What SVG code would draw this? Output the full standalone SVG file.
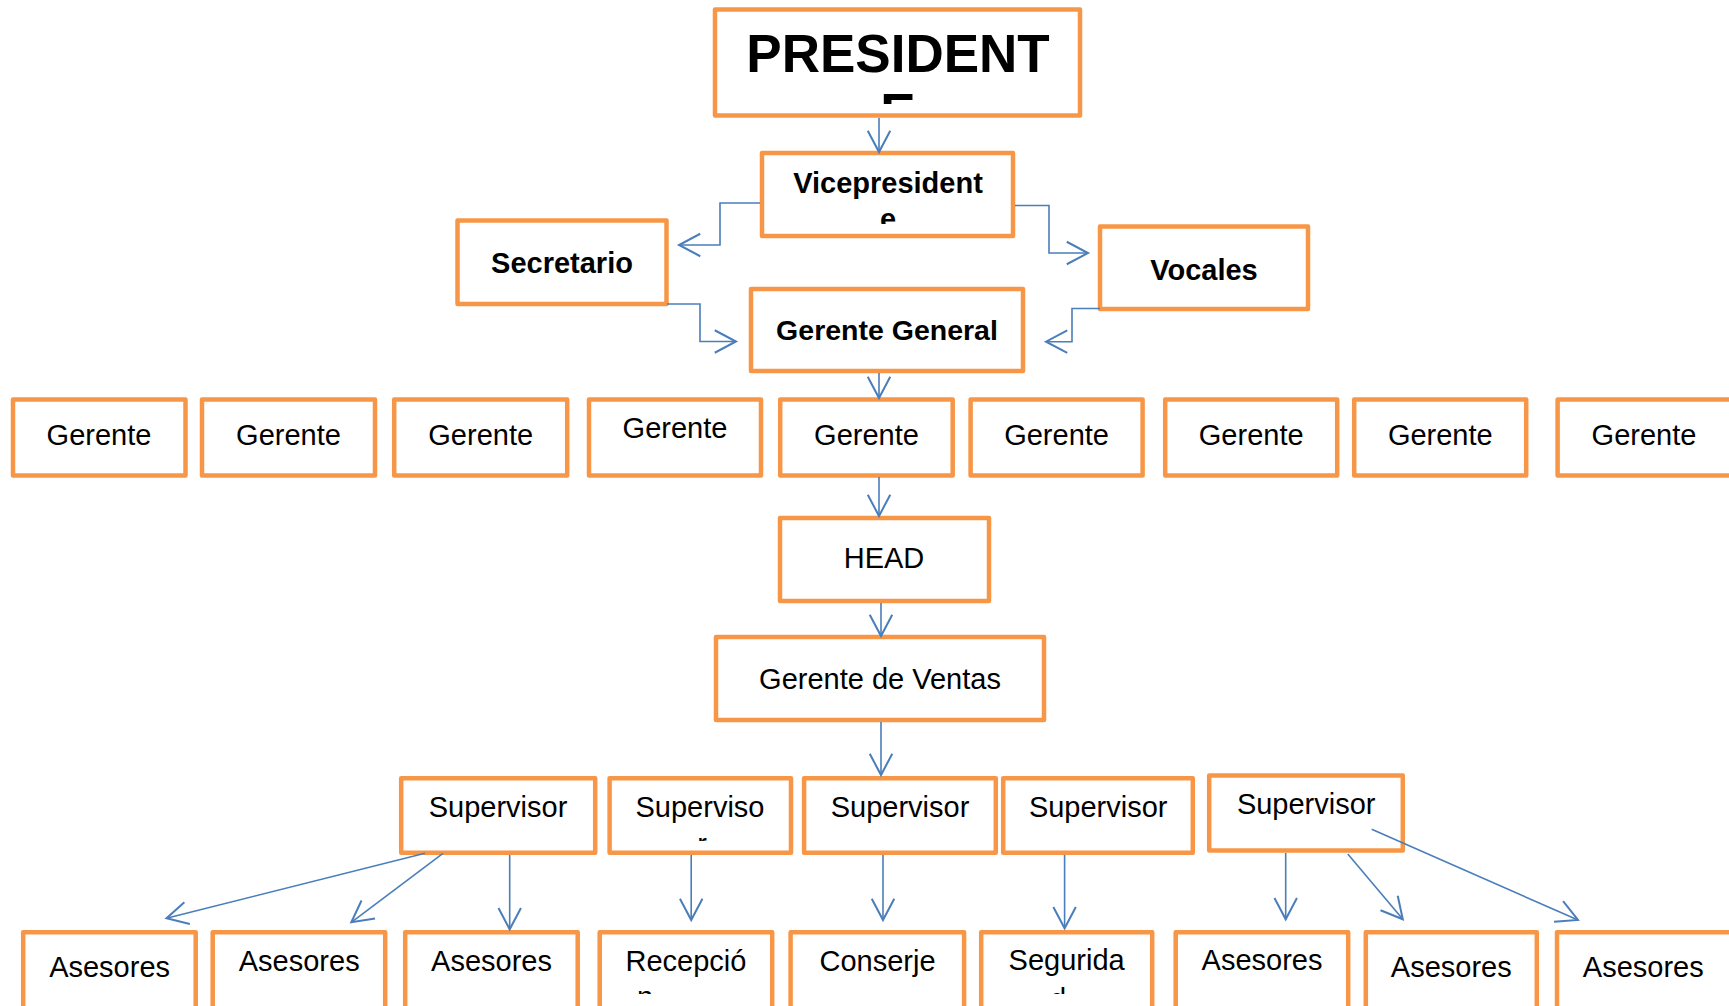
<svg xmlns="http://www.w3.org/2000/svg" width="1729" height="1006" viewBox="0 0 1729 1006">
<defs>
<style>
.box{fill:#fff;stroke:#F79646;stroke-width:4.5;stroke-linejoin:round}
.t{font-family:"Liberation Sans",Arial,sans-serif;font-size:29px;fill:#000;text-anchor:middle}
.b{font-weight:bold}
.c{fill:none;stroke:#4A7EBB;stroke-width:1.6;marker-end:url(#arr)}
</style>
<marker id="arr" markerUnits="userSpaceOnUse" markerWidth="30" markerHeight="30" viewBox="-20 -12 24 24" refX="0" refY="0" orient="auto" overflow="visible">
<path d="M-17,-9 L0,0 L-17,9" fill="none" stroke="#4A7EBB" stroke-width="1.6"/>
</marker>
<clipPath id="cpPres"><rect x="717" y="11" width="361" height="93"/></clipPath>
<clipPath id="cpVice"><rect x="764" y="155" width="247" height="69"/></clipPath>
<clipPath id="cpS2"><rect x="611" y="780" width="178" height="61"/></clipPath>
<clipPath id="cpA4"><rect x="601" y="934" width="169" height="60"/></clipPath>
<clipPath id="cpA6"><rect x="983" y="934" width="168" height="60"/></clipPath>
</defs>
<rect width="1729" height="1006" fill="#fff"/>

<g id="nodes">
<g id="presidente"><rect class="box" x="715" y="9.5" width="365" height="106"/>
<g clip-path="url(#cpPres)"><text class="t b" x="898" y="72" style="font-size:53px">PRESIDENT</text><text class="t b" x="898" y="131" style="font-size:53px">E</text></g></g>
<g id="vicepresidente"><rect class="box" x="762" y="153" width="251" height="83"/>
<g clip-path="url(#cpVice)"><text class="t b" x="888" y="193">Vicepresident</text><text class="t b" x="888" y="229">e</text></g></g>
<g id="secretario"><rect class="box" x="457.5" y="220.5" width="209" height="83.5"/><text class="t b" x="562" y="273">Secretario</text></g>
<g id="vocales"><rect class="box" x="1100" y="226.5" width="208" height="82.5"/><text class="t b" x="1204" y="280">Vocales</text></g>
<g id="gerente-general"><rect class="box" x="751" y="289" width="272" height="82"/><text class="t b" x="887" y="340" style="font-size:28.5px">Gerente General</text></g>

<g id="gerente-1"><rect class="box" x="13" y="399.5" width="172.5" height="76"/><text class="t" x="99" y="445">Gerente</text></g>
<g id="gerente-2"><rect class="box" x="202" y="399.5" width="173" height="76"/><text class="t" x="288.5" y="445">Gerente</text></g>
<g id="gerente-3"><rect class="box" x="394.2" y="399.5" width="173" height="76"/><text class="t" x="480.7" y="445">Gerente</text></g>
<g id="gerente-4"><rect class="box" x="589" y="399.5" width="172" height="76"/><text class="t" x="675" y="438.3">Gerente</text></g>
<g id="gerente-5"><rect class="box" x="780.2" y="399.5" width="172.5" height="76"/><text class="t" x="866.5" y="445">Gerente</text></g>
<g id="gerente-6"><rect class="box" x="970.6" y="399.5" width="172" height="76"/><text class="t" x="1056.6" y="445">Gerente</text></g>
<g id="gerente-7"><rect class="box" x="1165.2" y="399.5" width="172" height="76"/><text class="t" x="1251.2" y="445">Gerente</text></g>
<g id="gerente-8"><rect class="box" x="1354.2" y="399.5" width="172" height="76"/><text class="t" x="1440.3" y="445">Gerente</text></g>
<g id="gerente-9"><rect class="box" x="1557.6" y="399.5" width="176" height="76"/><text class="t" x="1644" y="445">Gerente</text></g>

<g id="head"><rect class="box" x="780" y="518" width="209" height="83"/><text class="t" x="884" y="567.7">HEAD</text></g>
<g id="gerente-ventas"><rect class="box" x="716" y="637" width="328" height="83"/><text class="t" x="880" y="689">Gerente de Ventas</text></g>

<g id="supervisor-1"><rect class="box" x="401.2" y="778.2" width="194" height="74.6"/><text class="t" x="498" y="817.3">Supervisor</text></g>
<g id="supervisor-2"><rect class="box" x="609.6" y="778.2" width="181.4" height="74.6"/>
<g clip-path="url(#cpS2)"><text class="t" x="700" y="817.3">Superviso</text><text class="t" x="702" y="854">r</text></g></g>
<g id="supervisor-3"><rect class="box" x="804.1" y="778.2" width="191.7" height="74.6"/><text class="t" x="900" y="817.3">Supervisor</text></g>
<g id="supervisor-4"><rect class="box" x="1003.2" y="778.2" width="189.6" height="74.6"/><text class="t" x="1098.2" y="817.3">Supervisor</text></g>
<g id="supervisor-5"><rect class="box" x="1209.2" y="775.5" width="193.6" height="75"/><text class="t" x="1306.2" y="814">Supervisor</text></g>

<g id="asesores-1"><rect class="box" x="23.2" y="932.2" width="172.5" height="80"/><text class="t" x="109.6" y="976.7">Asesores</text></g>
<g id="asesores-2"><rect class="box" x="212.7" y="932.2" width="172.5" height="80"/><text class="t" x="299.2" y="970.7">Asesores</text></g>
<g id="asesores-3"><rect class="box" x="405.2" y="932.2" width="172.5" height="80"/><text class="t" x="491.5" y="970.7">Asesores</text></g>
<g id="recepcion"><rect class="box" x="599.7" y="932.2" width="172.5" height="80"/>
<g clip-path="url(#cpA4)"><text class="t" x="685.9" y="970.7">Recepció</text><text class="t" x="645" y="1007">n</text></g></g>
<g id="conserje"><rect class="box" x="790.6" y="932.2" width="173.5" height="80"/><text class="t" x="877.5" y="970.7">Conserje</text></g>
<g id="seguridad"><rect class="box" x="981.2" y="932.2" width="171" height="80"/>
<g clip-path="url(#cpA6)"><text class="t" x="1066.6" y="970">Segurida</text><text class="t" x="1058" y="1009">d</text></g></g>
<g id="asesores-4"><rect class="box" x="1175.7" y="932.2" width="172.5" height="80"/><text class="t" x="1262" y="970">Asesores</text></g>
<g id="asesores-5"><rect class="box" x="1365.8" y="932.2" width="171" height="80"/><text class="t" x="1451.3" y="976.7">Asesores</text></g>
<g id="asesores-6"><rect class="box" x="1557" y="932.2" width="176" height="80"/><text class="t" x="1643.3" y="976.7">Asesores</text></g>
</g>

<g id="connectors">
<path class="c" d="M879,118 L879,152"/>
<path class="c" d="M760,203 L720,203 L720,245 L679,245"/>
<path class="c" d="M667,304 L700,304 L700,341.5 L736,341.5"/>
<path class="c" d="M1015,205.5 L1049,205.5 L1049,253 L1088,253"/>
<path class="c" d="M1100,308.5 L1072,308.5 L1072,341.7 L1046,341.7"/>
<path class="c" d="M879,373 L879,398"/>
<path class="c" d="M879,477 L879,516"/>
<path class="c" d="M881,603 L881,636"/>
<path class="c" d="M881,722 L881,775"/>
<path class="c" d="M425,853.3 L166.5,918.3"/>
<path class="c" d="M443,853.3 L351.3,922.3"/>
<path class="c" d="M509.7,855 L509.7,929.3"/>
<path class="c" d="M691.2,855 L691.2,920"/>
<path class="c" d="M883,855 L883,920"/>
<path class="c" d="M1064.6,855 L1064.6,928.3"/>
<path class="c" d="M1285.7,853 L1285.7,919.3"/>
<path class="c" d="M1347.8,854 L1402.8,919.3"/>
<path class="c" d="M1371.7,829.3 L1578,920"/>
</g>
</svg>
